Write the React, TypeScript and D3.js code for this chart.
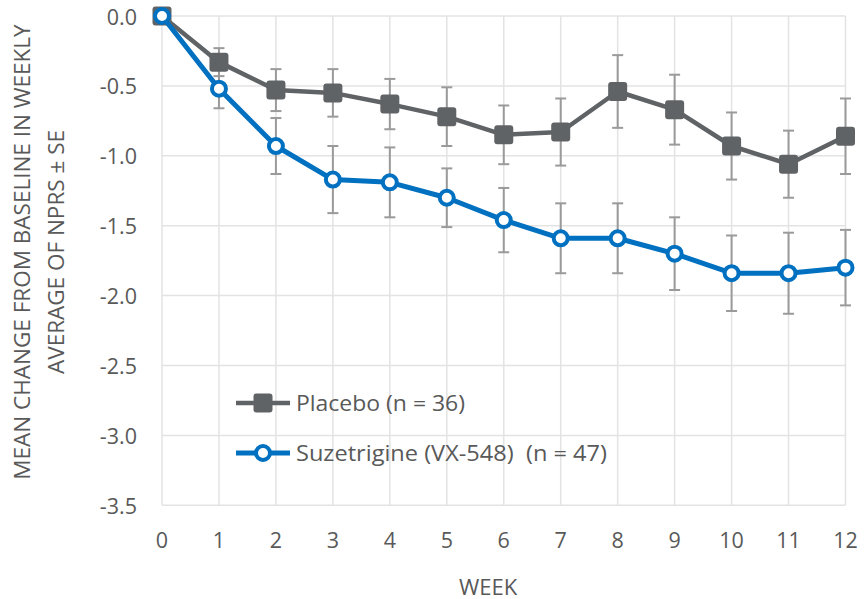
import React from "react";
import * as d3 from "d3";

const weeks = [0, 1, 2, 3, 4, 5, 6, 7, 8, 9, 10, 11, 12];
const placeboMean = [0, -0.33, -0.53, -0.55, -0.63, -0.72, -0.85, -0.83, -0.54, -0.67, -0.93, -1.06, -0.86];
const placeboSE = [0, 0.1, 0.15, 0.17, 0.18, 0.21, 0.21, 0.24, 0.26, 0.25, 0.24, 0.24, 0.27];
const suzMean = [0, -0.52, -0.93, -1.17, -1.19, -1.3, -1.46, -1.59, -1.59, -1.7, -1.84, -1.84, -1.8];
const suzSE = [0, 0.14, 0.2, 0.24, 0.25, 0.21, 0.23, 0.25, 0.25, 0.26, 0.27, 0.29, 0.27];
const yTicks = [0, -0.5, -1, -1.5, -2, -2.5, -3, -3.5];
const placeboLabel = "Placebo (n = 36)";
const suzLabel = "Suzetrigine (VX-548)  (n = 47)";
const yTitle1 = "MEAN CHANGE FROM BASELINE IN WEEKLY";
const yTitle2 = "AVERAGE OF NPRS ± SE";
const xTitle = "WEEK";

const W = 865;
const H = 599;
const left = 162;
const right = 845.5;
const top = 16;
const bottom = 505.3;

const greyColor = "#606366";
const blueColor = "#0070c0";
const textColor = "#595959";
const gridColor = "#e3e3e3";
const errColor = "#9a9a9a";
const font = "'Open Sans', sans-serif";

const fmt = (t: number) => t.toFixed(1).replace("\u2212", "-");

export default function App() {
  const x = d3.scaleLinear().domain([0, 12]).range([left, right]);
  const y = d3.scaleLinear().domain([0, -3.5]).range([top, bottom]);
  const line = d3
    .line<number>()
    .x((_, i) => x(weeks[i]))
    .y((d) => y(d));

  const errBars = (means: number[], se: number[], key: string) =>
    means.map((m, i) =>
      se[i] > 0 ? (
        <g key={key + i} stroke={errColor} strokeWidth={2}>
          <line x1={x(weeks[i])} x2={x(weeks[i])} y1={y(m + se[i])} y2={y(m - se[i])} />
          <line x1={x(weeks[i]) - 5.5} x2={x(weeks[i]) + 5.5} y1={y(m + se[i])} y2={y(m + se[i])} />
          <line x1={x(weeks[i]) - 5.5} x2={x(weeks[i]) + 5.5} y1={y(m - se[i])} y2={y(m - se[i])} />
        </g>
      ) : null
    );

  const sq = 19;
  const legX1 = 236;
  const legX2 = 290;
  const legMid = 263;
  const legY1 = 403;
  const legY2 = 453;

  return (
    <svg width={W} height={H} style={{ position: "absolute", left: 0, top: 0, background: "#fff" }}>
      {/* grid */}
      <g stroke={gridColor} strokeWidth={1.5}>
        {weeks.map((w) => (
          <line key={"vx" + w} x1={x(w)} x2={x(w)} y1={top} y2={bottom} />
        ))}
        {yTicks.map((t) => (
          <line key={"hy" + t} x1={left} x2={right} y1={y(t)} y2={y(t)} />
        ))}
      </g>
      {/* y tick labels */}
      <g fill={textColor} fontFamily={font} fontSize={21.5} textAnchor="end">
        {yTicks.map((t) => (
          <text key={"yt" + t} x={137} y={y(t) + 1} dy="0.35em">
            {fmt(t)}
          </text>
        ))}
      </g>
      {/* x tick labels */}
      <g fill={textColor} fontFamily={font} fontSize={21.5} textAnchor="middle">
        {weeks.map((w) => (
          <text key={"xt" + w} x={x(w)} y={540} dy="0.35em">
            {w}
          </text>
        ))}
      </g>
      <text x={488} y={587} dy="0.35em" fill={textColor} fontFamily={font} fontSize={22} textAnchor="middle">
        {xTitle}
      </text>
      <g fill={textColor} fontFamily={font} fontSize={22.5} textAnchor="middle">
        <text transform={`translate(22,252) rotate(-90)`} dy="0.35em">
          {yTitle1}
        </text>
        <text transform={`translate(56,252) rotate(-90)`} dy="0.35em">
          {yTitle2}
        </text>
      </g>
      {/* error bars */}
      {errBars(placeboMean, placeboSE, "pe")}
      {errBars(suzMean, suzSE, "se")}
      {/* placebo */}
      <path d={line(placeboMean) || ""} fill="none" stroke={greyColor} strokeWidth={4.5} strokeLinejoin="round" />
      {placeboMean.map((m, i) => (
        <rect key={"pm" + i} x={x(weeks[i]) - sq / 2} y={y(m) - sq / 2} width={sq} height={sq} rx={3} fill={greyColor} />
      ))}
      {/* suzetrigine */}
      <path d={line(suzMean) || ""} fill="none" stroke={blueColor} strokeWidth={5} strokeLinejoin="round" />
      {suzMean.map((m, i) => (
        <circle key={"sm" + i} cx={x(weeks[i])} cy={y(m)} r={7} fill="#fff" stroke={blueColor} strokeWidth={4} />
      ))}
      {/* legend */}
      <line x1={legX1} x2={legX2} y1={legY1} y2={legY1} stroke={greyColor} strokeWidth={4.5} />
      <rect x={legMid - sq / 2} y={legY1 - sq / 2} width={sq} height={sq} rx={3} fill={greyColor} />
      <text x={296} y={legY1} dy="0.35em" fill={textColor} fontFamily={font} fontSize={22} textLength={169} lengthAdjust="spacingAndGlyphs">
        {placeboLabel}
      </text>
      <line x1={legX1} x2={legX2} y1={legY2} y2={legY2} stroke={blueColor} strokeWidth={5} />
      <circle cx={legMid} cy={legY2} r={7} fill="#fff" stroke={blueColor} strokeWidth={4} />
      <text x={296} y={legY2} dy="0.35em" fill={textColor} fontFamily={font} fontSize={22} textLength={311} lengthAdjust="spacingAndGlyphs" style={{ whiteSpace: "pre" }}>
        {suzLabel}
      </text>
    </svg>
  );
}
